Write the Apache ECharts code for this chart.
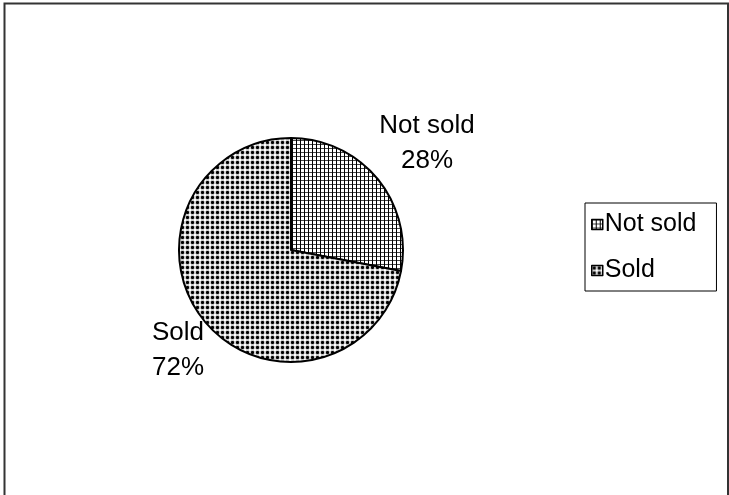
<!DOCTYPE html>
<html>
<head>
<meta charset="utf-8">
<script src="https://cdn.jsdelivr.net/npm/echarts@6/dist/echarts.min.js"></script>
<style>
html,body{margin:0;padding:0;background:#fff;}
#c{width:729px;height:495px;}
</style>
</head>
<body>
<div id="c"></div>
<script>
var categories = ['Not sold', 'Sold'];
var values = [28, 72];

function gridPattern() {
  var c = document.createElement('canvas');
  c.width = 4; c.height = 4;
  var g = c.getContext('2d');
  g.fillStyle = '#fff'; g.fillRect(0, 0, 4, 4);
  g.fillStyle = '#000';
  g.fillRect(0, 0, 1, 4);
  g.fillStyle = '#444';
  g.fillRect(1, 0, 3, 1);
  return c;
}
function dotPattern() {
  var c = document.createElement('canvas');
  c.width = 5; c.height = 5;
  var g = c.getContext('2d');
  g.fillStyle = '#fff'; g.fillRect(0, 0, 5, 5);
  g.fillStyle = '#ccc';
  g.fillRect(0, 1, 5, 3);
  g.fillRect(1, 0, 3, 5);
  g.fillStyle = '#000';
  g.fillRect(1, 1, 3, 3);
  g.fillStyle = '#333';
  g.fillRect(1, 1, 1, 1); g.fillRect(3, 1, 1, 1);
  g.fillRect(1, 3, 1, 1); g.fillRect(3, 3, 1, 1);
  return c;
}
var fills = [
  { image: gridPattern(), repeat: 'repeat' },
  { image: dotPattern(), repeat: 'repeat' }
];

var chart = echarts.init(document.getElementById('c'));
var labelPos = [[427, 143], [178, 350]];
chart.setOption({
  animation: false,
  backgroundColor: '#fff',
  graphic: [{
    type: 'rect',
    shape: { x: 4.5, y: 3.5, width: 723.5, height: 500 },
    style: { fill: 'none', stroke: '#333', lineWidth: 2 },
    silent: true
  }],
  legend: {
    orient: 'vertical',
    left: 585,
    top: 203,
    padding: [9, 20, 8, 6],
    borderColor: '#000',
    borderWidth: 1,
    itemGap: 21,
    itemWidth: 11,
    itemHeight: 10,
    icon: 'rect',
    data: categories,
    itemStyle: { borderColor: '#000', borderWidth: 1.5 },
    textStyle: { fontFamily: 'Liberation Sans, Arial, sans-serif', fontSize: 25, color: '#000', lineHeight: 24, padding: [0, 0, 0, -3] }
  },
  series: [{
    type: 'pie',
    center: [291, 250],
    radius: 112,
    startAngle: 90,
    clockwise: true,
    label: {
      show: true,
      position: 'outside',
      formatter: '{b}\n{d}%',
      fontFamily: 'Liberation Sans, Arial, sans-serif',
      fontSize: 26,
      lineHeight: 35,
      color: '#000',
      align: 'center'
    },
    labelLine: { show: false },
    labelLayout: function (p) {
      var pos = labelPos[p.dataIndex];
      return { x: pos[0], y: pos[1], align: 'center', verticalAlign: 'middle' };
    },
    itemStyle: { borderColor: '#000', borderWidth: 2 },
    emphasis: { disabled: true },
    data: categories.map(function (n, i) {
      return { name: n, value: values[i], itemStyle: { color: fills[i] } };
    })
  }]
});
</script>
</body>
</html>
